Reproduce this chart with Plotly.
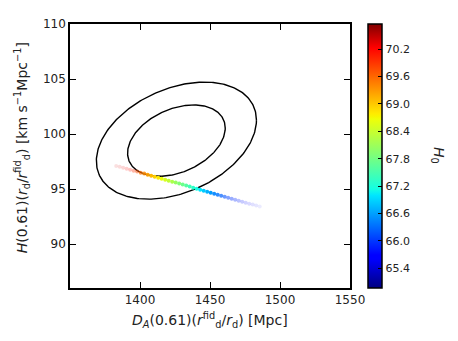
import numpy as np
import plotly.graph_objects as go

# Contour ellipse parameters (BAO D_A / H constraint)
center_da = 1426.0
center_h = 99.4
sigma_da = 23.0
sigma_h = 2.14
rho = 0.35
chi2_levels = [2.30, 6.18]  # 68% and 95% for 2 parameters

# Degeneracy band of samples, coloured by H0
band_da = [1383.0, 1385.5, 1388.0, 1390.5, 1393.0, 1395.5, 1398.0, 1400.5, 1403.0, 1405.5,
           1408.0, 1410.5, 1413.0, 1415.5, 1418.0, 1420.5, 1423.0, 1425.5, 1428.0, 1430.5,
           1433.0, 1435.5, 1438.0, 1440.5, 1443.0, 1445.5, 1448.0, 1450.5, 1453.0, 1455.5,
           1458.0, 1460.5, 1463.0, 1465.5, 1468.0, 1470.5, 1473.0, 1475.5, 1478.0, 1480.5,
           1483.0, 1485.5]
band_h = [97.10, 97.02, 96.94, 96.85, 96.76, 96.67, 96.58, 96.48, 96.40, 96.30,
          96.21, 96.12, 96.03, 95.94, 95.85, 95.76, 95.67, 95.58, 95.50, 95.41,
          95.32, 95.22, 95.12, 95.02, 94.93, 94.84, 94.75, 94.66, 94.57, 94.48,
          94.39, 94.30, 94.21, 94.12, 94.03, 93.94, 93.85, 93.76, 93.67, 93.58,
          93.49, 93.40]
band_h0 = [70.40, 70.35, 70.30, 70.20, 70.10, 69.95, 69.75, 69.55, 69.40, 69.25,
           69.10, 68.95, 68.80, 68.65, 68.50, 68.35, 68.20, 68.05, 67.90, 67.75,
           67.60, 67.45, 67.30, 67.15, 67.00, 66.85, 66.70, 66.58, 66.45, 66.35,
           66.25, 66.15, 66.05, 65.98, 65.92, 65.86, 65.80, 65.75, 65.70, 65.66,
           65.62, 65.60]
band_alpha = [0.12, 0.14, 0.16, 0.20, 0.25, 0.35, 0.50, 0.70, 0.85, 0.95,
              1, 1, 1, 1, 1, 1, 1, 1, 1, 1,
              1, 1, 1, 1, 1, 1, 1, 1, 0.92, 0.82,
              0.70, 0.58, 0.48, 0.40, 0.33, 0.27, 0.22, 0.18, 0.15, 0.12,
              0.10, 0.08]

x_ticks = [1400, 1450, 1500, 1550]
y_ticks = [90, 95, 100, 105, 110]
cbar_ticks = [65.4, 66.0, 66.6, 67.2, 67.8, 68.4, 69.0, 69.6, 70.2]

# matplotlib-style jet
jet = [[0.0, 'rgb(0,0,128)'], [0.11, 'rgb(0,0,255)'], [0.125, 'rgb(0,0,255)'],
       [0.34, 'rgb(0,219,255)'], [0.35, 'rgb(0,229,255)'], [0.375, 'rgb(20,255,226)'],
       [0.64, 'rgb(239,255,8)'], [0.65, 'rgb(247,245,0)'], [0.66, 'rgb(255,236,0)'],
       [0.89, 'rgb(255,19,0)'], [0.91, 'rgb(255,0,0)'], [1.0, 'rgb(128,0,0)']]

fig = go.Figure()

t = np.linspace(0, 2 * np.pi, 300)
for lev in chi2_levels:
    k = np.sqrt(lev)
    ex = center_da + k * sigma_da * np.cos(t)
    ey = center_h + k * sigma_h * (rho * np.cos(t) + np.sqrt(1 - rho ** 2) * np.sin(t))
    fig.add_trace(go.Scatter(x=ex, y=ey, mode='lines',
                             line=dict(color='black', width=1.4),
                             showlegend=False, hoverinfo='skip'))

fig.add_trace(go.Scatter(
    x=band_da, y=band_h, mode='markers', showlegend=False,
    marker=dict(size=4, color=band_h0, colorscale=jet, cmin=64.97, cmax=70.75,
                opacity=band_alpha, line=dict(width=0),
                colorbar=dict(x=1.064, xanchor='left', xpad=0, y=0.5, yanchor='middle',
                              ypad=0, len=1, lenmode='fraction', thickness=14,
                              outlinewidth=1.5, outlinecolor='black',
                              tickvals=cbar_ticks,
                              ticktext=['%.1f' % v for v in cbar_ticks],
                              ticks='inside', ticklen=4, tickcolor='black',
                              tickfont=dict(size=11, color='#222')))
))

axis_common = dict(showgrid=False, zeroline=False, showline=True, linecolor='black',
                   linewidth=1.5, mirror='allticks', ticks='inside', ticklen=6,
                   tickcolor='black', tickwidth=1, tickfont=dict(size=12, color='#222'))

# page body has an 8px default margin, so the figure is a bit smaller and shifted
fig.update_layout(
    width=450, height=333,
    margin=dict(l=62, r=108, t=9, b=53),
    paper_bgcolor='white', plot_bgcolor='white',
    font=dict(family='DejaVu Sans', color='#222'),
    xaxis=dict(range=[1350, 1550], tickvals=x_ticks, **axis_common),
    yaxis=dict(range=[86, 110], tickvals=y_ticks, **axis_common),
    annotations=[
        dict(text='<i>D<sub>A</sub></i>(0.61)(<i>r</i><sup>fid</sup><sub>d</sub>/<i>r</i><sub>d</sub>) [Mpc]',
             x=0.5, y=-0.122, xref='paper', yref='paper', xanchor='center', yanchor='middle',
             showarrow=False, font=dict(size=14)),
        dict(text='<i>H</i>(0.61)(<i>r</i><sub>d</sub>/<i>r</i><sup>fid</sup><sub>d</sub>) [km s<sup>−1</sup>Mpc<sup>−1</sup>]',
             x=-0.171, y=0.53, xref='paper', yref='paper', xanchor='center', yanchor='middle',
             textangle=-90, showarrow=False, font=dict(size=14)),
        dict(text='<i>H</i><sub>0</sub>', x=1.314, y=0.5, xref='paper', yref='paper',
             xanchor='center', yanchor='middle', textangle=90, showarrow=False,
             font=dict(size=14)),
    ],
)

fig.write_html("out.html")
